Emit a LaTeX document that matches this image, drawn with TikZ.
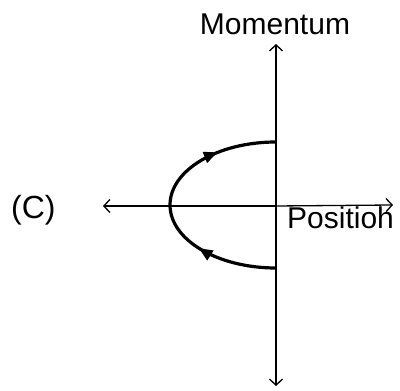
\documentclass[tikz,border=0pt]{standalone}
\usepackage{fontspec}
\setmainfont{Liberation Sans}
\usetikzlibrary{arrows.meta,decorations.markings}
\tikzset{
  axisline/.style={line width=1.3pt,-{Straight Barb[length=6pt,width=13pt,line width=1.3pt]}},
  orbit/.style={line width=3.2pt,
    postaction={decorate,decoration={markings,
      mark=at position 0.30 with {\arrow{Triangle[length=14pt,width=11pt]}},
      mark=at position 0.78 with {\arrow{Triangle[length=14pt,width=11pt]}}}}},
  lbl/.style={inner sep=0pt,font=\fontsize{30}{36}\selectfont}
}
\begin{document}
\begin{tikzpicture}[x=1pt,y=1pt]
\useasboundingbox (0,0) rectangle (400,391);
\coordinate (o) at (276,185);
\coordinate (top) at (276,347);
\coordinate (bot) at (276,5);
\coordinate (lft) at (103,185);
\coordinate (rgt) at (393,186);
\coordinate (cs) at (276,123);
\draw[axisline] (o) -- (top);
\draw[axisline] (o) -- (bot);
\draw[axisline] (o) -- (lft);
\draw[axisline] (o) -- (rgt);
\draw[orbit] (cs) arc[start angle=-90,end angle=-270,x radius=106,y radius=63] coordinate (ce);
\node[lbl,anchor=base] (mom) at (275,356) {Momentum};
\node[lbl,anchor=base west] (pos) at (287,162) {Positioh};
\node[lbl,anchor=base west,font=\fontsize{32}{38}\selectfont] (c) at (11,172) {(C)};
\end{tikzpicture}
\end{document}
